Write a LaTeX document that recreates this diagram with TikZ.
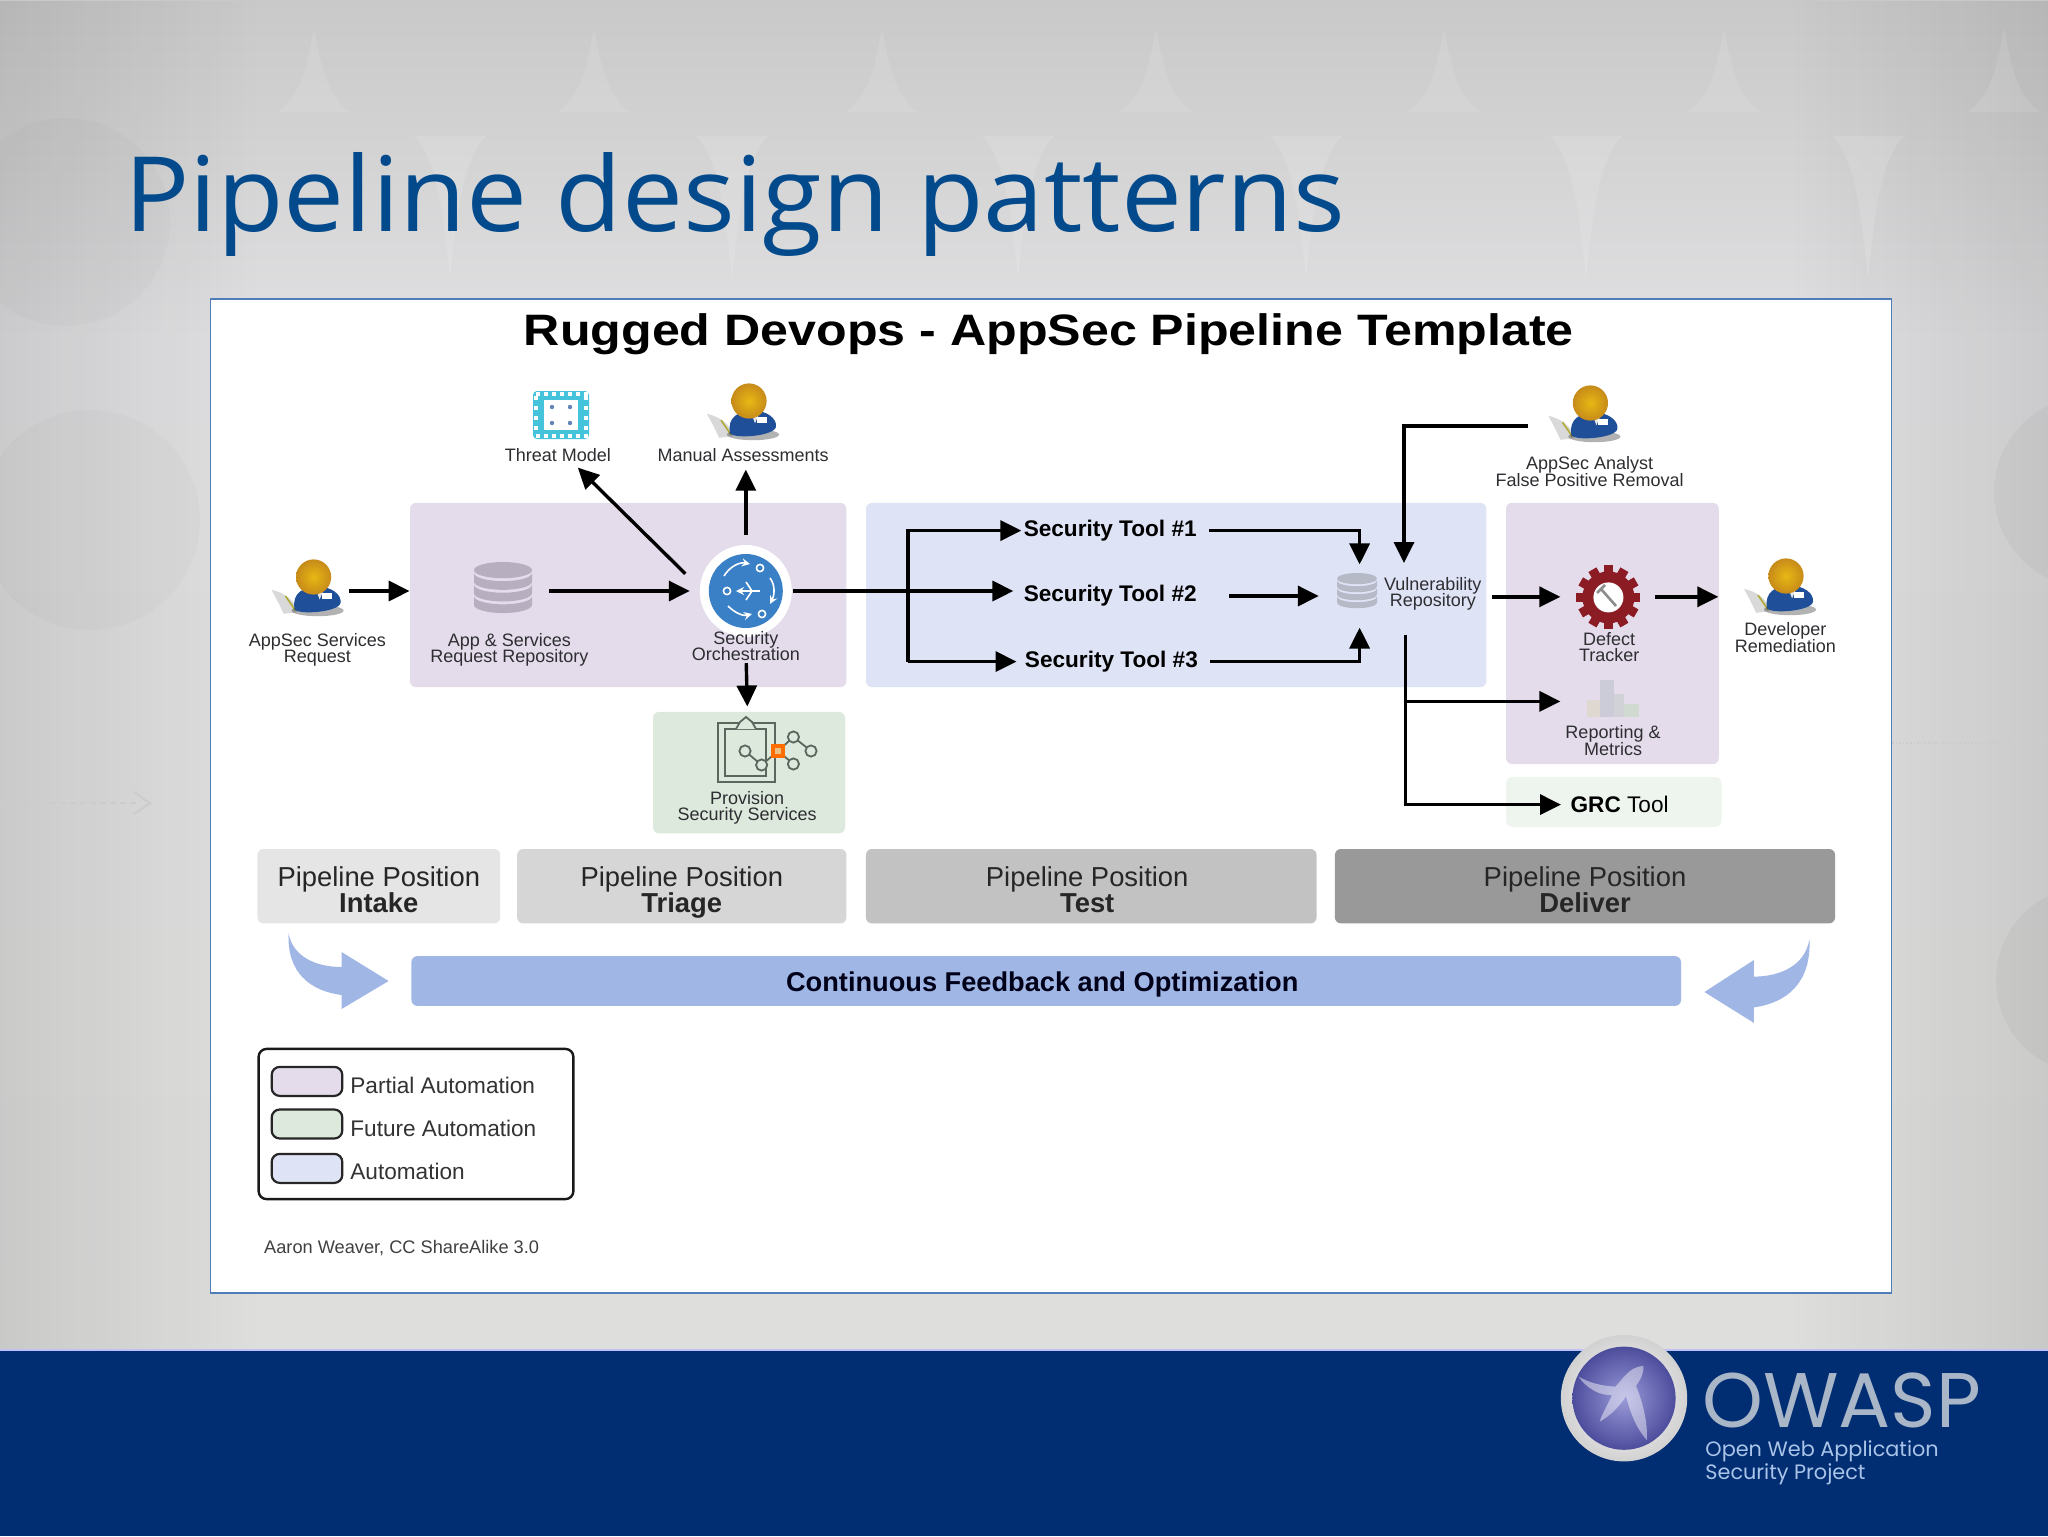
\documentclass[tikz,border=0pt]{standalone}
\usepackage{fontspec}
\usetikzlibrary{positioning}
\usetikzlibrary{arrows.meta}
\usetikzlibrary{fadings}
\setmainfont{Liberation Sans}
\newfontfamily\slidefont[FakeStretch=1.045]{Open Sans}
\newfontfamily\ruggedfont[FakeStretch=1.14]{Liberation Sans}
\newfontfamily\logofont{Poppins}

\definecolor{slidetop}{HTML}{C9C9C9}
\definecolor{slidemid}{HTML}{E0E0E2}
\definecolor{slidelow}{HTML}{DEDEDC}
\definecolor{bandblue}{HTML}{012D72}
\definecolor{headingblue}{HTML}{024A8C}
\definecolor{panelline}{HTML}{4F7DB8}
\definecolor{partial}{HTML}{E4DCEB}
\definecolor{full}{HTML}{DFE3F6}
\definecolor{future}{HTML}{DDE9DC}
\definecolor{futurelight}{HTML}{EEF5EE}
\definecolor{feedback}{HTML}{A0B7E6}
\definecolor{labelgrey}{HTML}{2E2E32}
\definecolor{shirtblue}{HTML}{1F4F98}
\definecolor{headorange}{HTML}{DD9A1C}
\definecolor{orchblue}{HTML}{3A80C6}
\definecolor{threatcyan}{HTML}{45C3DA}
\definecolor{gearred}{HTML}{8C1C24}
\definecolor{iconline}{HTML}{5C655E}
\definecolor{logosilver}{HTML}{A9B6C8}
\definecolor{logoblue}{HTML}{A9C4E8}
\definecolor{repogrey}{HTML}{B7AEBF}
\definecolor{vulngrey}{HTML}{B6BAC6}

\newcommand{\tightlines}{\lineskiplimit -5pt\relax}

\tikzset{
    pics/person/.style={code={
        \begin{scope}[yscale=.8]
            \fill[black!15] (-21,8) .. controls (-14,10) and (-9,15) .. (-8,22) -- (-15,23) .. controls (-17,17) and (-19,13) .. cycle;
            \draw[olive!70, line width=.8pt] (-14,12) -- (-9,21);
            \fill[black, opacity=.3] (2,21) ellipse (13 and 3.5);
            \fill[shirtblue] (-9.5,20) .. controls (-11,10) and (-5,6) .. (2,6) .. controls (9,6) and (14,11) .. (13.5,16) .. controls (13,22) and (-8,24) .. cycle;
            \fill[black!10] (1,7) -- (5,8) -- (3,14) -- cycle;
            \fill[white] (4,10) rectangle (9,14);
        \end{scope}
        \shade[inner color=headorange!70!yellow, outer color=headorange!90!black] (0,0) circle (8.8);
    }},
    pics/dbstack/.style={code={
        \fill[#1] (0,-.72) ellipse (1 and .28);
        \foreach \yt in {-.62,-.22,.18} {
            \fill[#1] (-1,\yt) -- (-1,\yt+.3) arc[start angle=180, end angle=0, x radius=1, y radius=.28] -- (1,\yt) arc[start angle=0, end angle=180, x radius=1, y radius=.28] -- cycle;
        }
    }},
    pics/curlarrow/.style={code={
        \fill[feedback] (-50,-24) .. controls (-48,-12) and (-36,-7) .. (-23.5,-7) -- (-23.5,-14.5) -- (0,0) -- (-23.5,14) -- (-23.5,7) .. controls (-39,5) and (-51,-4) .. cycle;
    }},
    zone/.style={rectangle, rounded corners=3pt, inner sep=0pt},
    stage/.style={rectangle, rounded corners=3pt, minimum height=37.2pt, inner sep=0pt, align=center, text=black!85, font=\fontsize{13.7}{13}\selectfont\tightlines},
    iconbox/.style={rectangle, inner sep=0pt},
    tag/.style={align=center, inner sep=1pt, text=labelgrey, font=\fontsize{9}{8.2}\selectfont\tightlines},
    toolname/.style={inner sep=1pt, font=\fontsize{11.3}{12}\selectfont\bfseries},
    swatch/.style={rectangle, rounded corners=4pt, draw=black!85, line width=1.1pt, minimum width=35.3pt, minimum height=14.5pt, inner sep=0pt},
    legendtext/.style={anchor=west, inner sep=0pt, text=black!80, font=\fontsize{11.3}{12}\selectfont},
    flow/.style={-{Triangle[length=10.5pt,width=10pt]}, line width=1.7pt, black}
}

\begin{document}
\begin{tikzpicture}[x=1pt,y=-1pt]
    \useasboundingbox (0,0) rectangle (1024,768);

    % slide background
    \shade[top color=slidetop, bottom color=slidemid] (0,0) rectangle (1024,170);
    \shade[top color=slidemid, bottom color=slidelow] (0,170) rectangle (1024,676);
    \fill[black, opacity=.09, path fading=east] (0,0) rectangle (130,676);
    \fill[black, opacity=.09, path fading=west] (894,0) rectangle (1024,676);
    \foreach \s in {157,297,441,578,722,862,1002} {
        \fill[white, opacity=.1] (\s-18,56) .. controls (\s-6,48) and (\s-3,30) .. (\s,14) .. controls (\s+3,30) and (\s+6,48) .. (\s+18,56) -- cycle;
    }
    \foreach \s in {225,366,509,653,793,934} {
        \fill[white, opacity=.12] (\s-18,68) .. controls (\s-6,80) and (\s-3,110) .. (\s,140) .. controls (\s+3,110) and (\s+6,80) .. (\s+18,68) -- cycle;
    }
    \fill[black, opacity=.015] (33,111) circle (52);
    \fill[black, opacity=.015] (45,260) circle (55);
    \fill[black, opacity=.03] (1045,246) circle (48);
    \fill[black, opacity=.03] (1045,490) circle (47);
    \draw[black!20, densely dashed, line width=.8pt] (0,401.6) -- (68,401.6);
    \draw[black!20, line width=1pt] (67,396) -- (75,401.6) -- (67,407);
    \draw[black!20, densely dotted, line width=.8pt] (946,371.5) -- (1024,371.5);

    % footer band
    \fill[bandblue] (0,675) rectangle (1024,768);
    \draw[black!5!blue!25!white, line width=.8pt] (0,675) -- (1024,675);

    \node[anchor=base west, inner sep=0pt, text=headingblue, font=\fontsize{52}{52}\slidefont] (heading) at (62,115.5) {Pipeline design patterns};

    % white panel
    \node[rectangle, draw=panelline, fill=white, line width=.8pt, minimum width=840.5pt, minimum height=497pt, inner sep=0pt] (panel) at (525.4,398) {};
    \node[inner sep=0pt, font=\fontsize{22}{22}\ruggedfont\bfseries] (paneltitle) at (524.4,167) {Rugged Devops - AppSec Pipeline Template};

    % coloured zones
    \node[zone, fill=partial, minimum width=218.2pt, minimum height=92.1pt] (triage) at (314.1,297.5) {};
    \node[zone, fill=full, minimum width=310.2pt, minimum height=92.1pt] (test) at (588.1,297.5) {};
    \node[zone, fill=partial, minimum width=106.4pt, minimum height=130.6pt] (deliver) at (806.2,316.7) {};
    \node[zone, fill=future, minimum width=96pt, minimum height=60.7pt] (provision) at (374.5,386.3) {};
    \node[zone, fill=futurelight, minimum width=107.7pt, minimum height=24.8pt] (grczone) at (806.9,401) {};

    % icons
    \pic at (156.8,288.5) {person};
    \pic at (374.5,200.5) {person};
    \pic at (795.2,201.5) {person};
    \pic at (893,288) {person};
    \pic[scale=14.5] at (251.5,295.5) {dbstack=repogrey};
    \pic[scale=10] at (678.5,296.5) {dbstack=vulngrey};

    % threat model icon
    \fill[threatcyan, rounded corners=2pt] (266.5,195.5) rectangle (294.5,219.5);
    \foreach \tx in {269,273,277,281,285,289,293} {
        \fill[white] (\tx-.8,196) rectangle (\tx+.8,198);
        \fill[white] (\tx-.8,217) rectangle (\tx+.8,219);
    }
    \foreach \ty in {199,204,209,214} {
        \fill[white] (267,\ty-.8) rectangle (269,\ty+.8);
        \fill[white] (292,\ty-.8) rectangle (294,\ty+.8);
    }
    \fill[white] (272,200) rectangle (289,215);
    \foreach \tx/\ty in {276/203.5,285/203.5,276/211.5,285/211.5} {
        \fill[shirtblue!70] (\tx,\ty) circle (1.1);
    }

    % provision icon
    \draw[iconline, line width=.9pt] (359,361.5) rectangle (387.5,391);
    \draw[iconline, line width=.9pt, fill=future] (362.5,364.5) rectangle (383,388);
    \draw[iconline, line width=.9pt, fill=future] (368,364.5) -- (370,361) -- (373,358.5) -- (376,361) -- (378,364.5);
    \draw[iconline, line width=.9pt] (372.5,375.5) -- (380.8,382.5) -- (389,375.5) -- (396.7,368.5) -- (405.5,375.5);
    \draw[iconline, line width=.9pt] (389,375.5) -- (396.7,382);
    \foreach \cx/\cy in {372.5/375.5,380.8/382.5,396.7/368.5,405.5/375.5,396.7/382} {
        \draw[iconline, line width=.9pt, fill=future] (\cx,\cy) circle (2.8);
    }
    \fill[orange!85!red] (385.5,372) rectangle (392.5,379);
    \fill[future!60!orange] (387.5,374) rectangle (390.5,377);

    % defect tracker gear
    \foreach \a in {0,30,...,330} {
        \fill[gearred, rotate around={\a:(804.2,298.7)}] (801.9,282.7) rectangle (806.5,288);
    }
    \fill[gearred] (804.2,298.7) circle (13);
    \fill[white] (804.2,298.7) circle (7.5);
    \draw[black!45, line width=1.3pt] (800.5,294.5) -- (808,303);
    \draw[black!45, line width=1.3pt] (798.5,296.5) -- (802.5,292.5);

    % reporting bars
    \fill[orange!30!black!18!white] (793.5,350) rectangle (800,358.5);
    \fill[blue!25!black!20!white] (800,340) rectangle (807,358.5);
    \fill[blue!15!black!18!white] (807,347) rectangle (812,358.5);
    \fill[green!20!black!18!white] (812,352) rectangle (819.6,358.5);

    % nodes for the connectors
    \node[iconbox, minimum width=33.2pt, minimum height=36pt] (request) at (157.8,295.5) {};
    \node[iconbox, minimum width=45.8pt, minimum height=30pt] (repo) at (251.4,295.5) {};
    \node[circle, fill=white, minimum size=46pt, inner sep=0pt, outer sep=5pt] (orch) at (372.9,295.5) {};
    \fill[orchblue] (orch.center) circle (18.5);
    \begin{scope}[white, line width=.8pt]
        \draw (363.5,295.5) circle (1.8);
        \draw (380,284) circle (1.8);
        \draw (381,307) circle (1.8);
        \draw[->, >=stealth] (362,288) .. controls (365,283) and (370,281) .. (375,282);
        \draw[->, >=stealth] (364,303) .. controls (368,307) and (372,308) .. (376,307);
        \draw[->, >=stealth] (385,289) .. controls (388,293) and (387,298) .. (385,302);
        \draw[->, >=stealth] (380,295.5) -- (368,295.5);
        \draw (373,291) -- (376,295.5) -- (373,300);
    \end{scope}
    \node[iconbox, minimum width=40.4pt, minimum height=31.2pt] (vulndb) at (679.8,298) {};
    \node[circle, inner sep=0pt, minimum size=47pt] (defect) at (803.9,298.4) {};
    \node[iconbox, minimum width=67.2pt, minimum height=36pt] (developer) at (893,298.4) {};
    \node[iconbox, minimum width=63.4pt, minimum height=36pt] (analyst) at (795.7,212.9) {};
    \node[iconbox, minimum width=52.2pt, minimum height=20pt] (reporting) at (806.5,350.7) {};
    \coordinate (fork) at (453.9,297);
    \coordinate (vulnin) at (702,281.5);
    \coordinate (vulnout) at (702.6,317.4);

    % labels
    \node[tag] (threatlabel) at (278.9,227.3) {Threat Model};
    \node[tag] (manuallabel) at (371.6,227.3) {Manual Assessments};
    \node[tag] (requestlabel) at (158.7,324.9) {AppSec Services\\Request};
    \node[tag] (repolabel) at (254.7,324.9) {App \& Services\\Request Repository};
    \node[tag] (orchlabel) at (372.9,323) {Security\\Orchestration};
    \node[tag] (provisionlabel) at (373.6,404) {Provision\\Security Services};
    \node[tag] (vulnlabel) at (716.4,296.8) {Vulnerability\\Repository};
    \node[tag] (analystlabel) at (794.8,235.8) {AppSec Analyst\\False Positive Removal};
    \node[tag] (defectlabel) at (804.6,323.6) {Defect\\Tracker};
    \node[tag] (reportinglabel) at (806.5,370.3) {Reporting \&\\Metrics};
    \node[tag] (developerlabel) at (892.7,318.7) {Developer\\Remediation};
    \node[toolname] (tool1) at (555.1,265.3) {Security Tool \#1};
    \node[toolname] (tool2) at (555.1,298) {Security Tool \#2};
    \node[toolname] (tool3) at (555.7,330.8) {Security Tool \#3};
    \node[inner sep=4.6pt, font=\fontsize{11.3}{12}\selectfont] (grc) at (809.8,402.3) {\textbf{GRC} Tool};

    % connectors
    \draw[flow] (request) -- (request -| triage.west);
    \draw[flow] (repo) -- (orch);
    \draw[flow, shorten <=4pt] (orch.168) -- ([xshift=10pt,yshift=-2pt]threatlabel.south);
    \draw[flow, shorten >=3pt] (orch) -- (orch |- manuallabel.south);
    \draw[flow, shorten >=2.5pt] (orchlabel) -- (provision);
    \draw[flow, shorten <=-4.5pt, shorten >=4pt] (orch) -- (orch -| tool2.west);
    \draw[flow] (fork |- tool3) -- (fork |- tool1) -- (tool1);
    \draw[flow, shorten >=3pt] (fork |- tool3) -- (tool3);
    \draw[flow, shorten <=5pt] (tool1) -| (vulndb);
    \draw[flow, shorten <=15pt] (tool2) -- (vulndb);
    \draw[flow, shorten <=5pt] (tool3) -| (vulndb);
    \draw[flow] (analyst) -| (vulnin);
    \draw[flow, shorten <=4pt] (vulnlabel.east |- defect) -- (defect);
    \draw[flow] (defect) -- (developer);
    \draw[flow] (vulnout) |- (reporting);
    \draw[flow] (vulnout) |- (grc);

    % pipeline positions
    \node[stage, fill=black!10, minimum width=121.4pt] (intakepos) at (189.4,443.1) {\rule{0pt}{16pt}Pipeline Position\\\textbf{Intake\vphantom{g}}};
    \node[stage, fill=black!16, minimum width=164.6pt] (triagepos) at (340.9,443.1) {\rule{0pt}{16pt}Pipeline Position\\\textbf{Triage}};
    \node[stage, fill=black!24, minimum width=225.3pt] (testpos) at (545.6,443.1) {\rule{0pt}{16pt}Pipeline Position\rule{4pt}{0pt}\\\textbf{Test\vphantom{g}}\rule{4pt}{0pt}};
    \node[stage, fill=black!40, minimum width=250.1pt] (deliverpos) at (792.5,443.1) {\rule{0pt}{16pt}Pipeline Position\\\textbf{Deliver\vphantom{g}}};

    % feedback bar
    \node[zone, fill=feedback, minimum width=634.8pt, minimum height=24.9pt, text=black!90!blue, font=\fontsize{13.6}{14}\selectfont\bfseries] (feedbackbar) at (523.1,490.5) {\rule{0pt}{13.5pt}Continuous Feedback and Optimization\rule{4pt}{0pt}};
    \pic at (194.3,490.5) {curlarrow};
    \pic[xscale=-1.05, yscale=1.1] at (852.2,496) {curlarrow};

    % legend
    \node[rectangle, rounded corners=4pt, draw=black!90, line width=1.2pt, minimum width=157.4pt, minimum height=75.1pt, inner sep=0pt] (legend) at (208,562) {};
    \node[swatch, fill=partial] (swatchpartial) at (153.5,540.7) {};
    \node[swatch, fill=future] (swatchfuture) at (153.5,562) {};
    \node[swatch, fill=full] (swatchfull) at (153.5,584.2) {};
    \node[legendtext] (textpartial) at (175,542.7) {Partial Automation};
    \node[legendtext] (textfuture) at (175,564.2) {Future Automation};
    \node[legendtext] (textfull) at (175,585.8) {Automation};
    \node[anchor=west, inner sep=0pt, text=black!75, font=\fontsize{9.1}{10}\selectfont] (credit) at (131.9,624.2) {Aaron Weaver, CC ShareAlike 3.0};

    % logo
    \shade[inner color=white, outer color=black!18] (812,699.1) circle (31.6);
    \shade[inner color=blue!35!white!70!gray, outer color=blue!45!black!70!white] (812,699.1) circle (25.8);
    \fill[white, opacity=.45] (821.7,683) .. controls (815,683) and (811,690) .. (807.7,693.3) .. controls (800,693) and (794,691) .. (789.3,688.3) .. controls (793,694) and (800,698) .. (806,697.5) .. controls (804,702) and (801,707) .. (799.8,710.8) .. controls (805,708) and (810,703) .. (813,698) .. controls (815,706) and (818,714) .. (823.4,720) .. controls (824,711) and (821,700) .. (818,693) .. controls (820,690) and (822,687) .. (821.7,683) -- cycle;
    \node[anchor=base west, inner sep=0pt, text=logosilver, font=\fontsize{38.7}{38.7}\logofont] (owasp) at (851,713.5) {OWASP};
    \node[anchor=north west, inner sep=0pt, align=left, text=logoblue, font=\fontsize{10.4}{11.5}\logofont] (owaspname) at (852.5,720) {Open Web Application\\Security Project};
\end{tikzpicture}
\end{document}
